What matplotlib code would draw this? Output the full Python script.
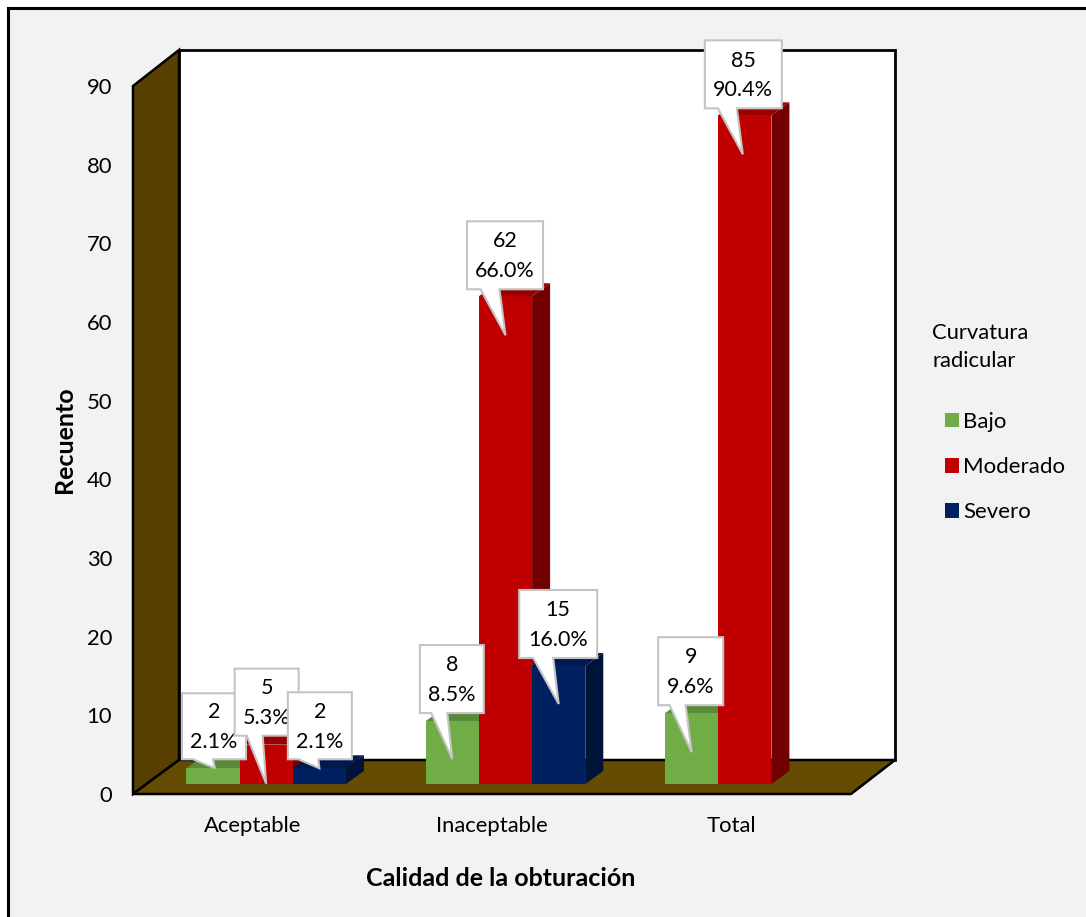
import matplotlib
matplotlib.use('Agg')
import matplotlib.pyplot as plt
from matplotlib.patches import Polygon, Rectangle
from matplotlib.transforms import Affine2D

plt.rcParams['font.family'] = ['Lato', 'DejaVu Sans']

categories = ['Aceptable', 'Inaceptable', 'Total']
series = ['Bajo', 'Moderado', 'Severo']
counts = {
    'Bajo': [2, 8, 9],
    'Moderado': [5, 62, 85],
    'Severo': [2, 15, None],
}
percents = {
    'Bajo': ['2.1%', '8.5%', '9.6%'],
    'Moderado': ['5.3%', '66.0%', '90.4%'],
    'Severo': ['2.1%', '16.0%', None],
}
y_ticks = [0, 10, 20, 30, 40, 50, 60, 70, 80, 90]

front = {'Bajo': '#70ad47', 'Moderado': '#c00000', 'Severo': '#002060'}
top = {'Bajo': '#5a8a39', 'Moderado': '#9a0000', 'Severo': '#001a4d'}
side = {'Bajo': '#43682a', 'Moderado': '#730000', 'Severo': '#001339'}

# pixel offsets of the balloon around the bar top: tip, box x range, box y range, neck x range
balloons = {
    ('Bajo', 0): ((2, 0), (-31, 33), (9, 75), (-20, 0)),
    ('Moderado', 0): ((0, -39), (-31.5, 32.5), (9, 76), (-19.5, -3.5)),
    ('Severo', 0): ((0, 0), (-31.5, 32.5), (9, 76), (-21, -1)),
    ('Bajo', 1): ((0, -38), (-32.5, 31.5), (8, 76), (-21, -5)),
    ('Moderado', 1): ((0, -39), (-38.5, 37.5), (7, 75), (-25, -6)),
    ('Severo', 1): ((0, -38), (-39.5, 38.5), (8, 76), (-25.5, -5.5)),
    ('Bajo', 2): ((0, -39), (-33.5, 31.5), (8, 76), (-22, -6)),
    ('Moderado', 2): ((-2, -39), (-40, 37), (7, 75), (-27, -8)),
}

W, H = 1086, 917
fig = plt.figure(figsize=(W / 100, H / 100), dpi=100, facecolor='white')

# panel behind the chart, with a black frame
fig.add_artist(Rectangle((8 / W, -0.02), 1.1, 1 - 8 / H + 0.02, transform=fig.transFigure,
                         facecolor='#f2f2f2', edgecolor='black', linewidth=2.2, zorder=-1))

ax = fig.add_axes([133 / W, (H - 794) / H, (851 - 133) / W, (794 - 86) / H])
ax.set_facecolor('none')
for s in ax.spines.values():
    s.set_visible(False)
ax.set_xlim(-0.5, 2.5)
ax.set_ylim(0, 90)


def shifted(dx, dy):
    return ax.transData + Affine2D().translate(dx, dy)


def to_px(x, y, dx=0, dy=0):
    px, py = ax.transData.transform((x, y))
    return px + dx, py + dy


# box of the room: back wall, left wall, floor
xmin, xmax = ax.get_xlim()
ymin, ymax = ax.get_ylim()
px_tr = Affine2D()
back_ll = to_px(xmin, ymin, 46, 34)
back_ul = to_px(xmin, ymax, 46, 36)
back_lr = to_px(xmax, ymin, 44, 34)
back_ur = to_px(xmax, ymax, 44, 36)
ax.add_patch(Polygon([back_ll, back_lr, back_ur, back_ul], transform=px_tr,
                     facecolor='white', edgecolor='black', linewidth=2, clip_on=False, zorder=1))
ax.add_patch(Polygon([to_px(xmin, ymin), to_px(xmin, ymax), back_ul, back_ll], transform=px_tr,
                     facecolor='#574000', edgecolor='black', linewidth=1.8, clip_on=False, zorder=2))
ax.add_patch(Polygon([to_px(xmin, ymin), to_px(xmax, ymin), back_lr, back_ll], transform=px_tr,
                     facecolor='#644c00', edgecolor='black', linewidth=1.8, clip_on=False, zorder=2))

# bars sit a little way into the room
BAR_SHIFT = (13.5, 10)
BAR_DEPTH = (18, 13)
bar_w = 2 / 9
z = 3
anchors = {}
for i, name in enumerate(series):
    xs = [c + (i - 1) * bar_w for c, v in enumerate(counts[name]) if v is not None]
    vals = [v for v in counts[name] if v is not None]
    ax.bar(xs, vals, bar_w, color=front[name], transform=shifted(*BAR_SHIFT),
           label=name, clip_on=False, zorder=z + 1)
    for c, (x, v) in enumerate(zip(xs, vals)):
        x0, x1 = x - bar_w / 2, x + bar_w / 2
        ox, oy = BAR_SHIFT
        ddx, ddy = BAR_DEPTH
        top_pts = [to_px(x0, v, ox, oy), to_px(x1, v, ox, oy),
                   to_px(x1, v, ox + ddx, oy + ddy), to_px(x0, v, ox + ddx, oy + ddy)]
        side_pts = [to_px(x1, 0, ox, oy), to_px(x1, v, ox, oy),
                    to_px(x1, v, ox + ddx, oy + ddy), to_px(x1, 0, ox + ddx, oy + ddy)]
        ax.add_patch(Polygon(top_pts, transform=px_tr, facecolor=top[name], edgecolor='none',
                             clip_on=False, zorder=z))
        ax.add_patch(Polygon(side_pts, transform=px_tr, facecolor=side[name], edgecolor='none',
                             clip_on=False, zorder=z))
        anchors[(name, c)] = to_px(x, v, ox, oy)
    z += 2

# value balloons, in series order so later ones overlap earlier ones
z = 20
for name in series:
    for c, cat in enumerate(categories):
        if counts[name][c] is None:
            continue
        (tx, ty), (bx0, bx1), (by0, by1), (nx0, nx1) = balloons[(name, c)]
        ax0, ay0 = anchors[(name, c)]
        outline = [(bx0, by0), (nx0, by0), (tx, ty), (nx1, by0), (bx1, by0), (bx1, by1), (bx0, by1)]
        ax.add_patch(Polygon([(ax0 + p, ay0 + q) for p, q in outline], closed=True, transform=px_tr,
                             facecolor='white', edgecolor='#c4c4c4', linewidth=1.5,
                             joinstyle='miter', clip_on=False, zorder=z))
        ax.text(ax0 + (bx0 + bx1) / 2, ay0 + (by0 + by1) / 2 - 1, f'{counts[name][c]}\n{percents[name][c]}',
                transform=px_tr, ha='center', va='center', fontsize=15.5, color='black',
                linespacing=1.6, clip_on=False, zorder=z + 1)
        z += 2

ax.set_xticks(range(len(categories)), categories)
ax.set_yticks(y_ticks)
ax.tick_params(axis='both', length=0, labelsize=15.8, colors='black')
ax.tick_params(axis='x', pad=16)
ax.tick_params(axis='y', pad=15)

ax.set_xlabel('Calidad de la obturación', fontsize=18, fontweight='bold', va='center')
ax.xaxis.set_label_coords(501 / W, (H - 879) / H, transform=fig.transFigure)
ax.set_ylabel('Recuento', fontsize=18, fontweight='bold', va='center')
ax.yaxis.set_label_coords(64 / W, (H - 440) / H, transform=fig.transFigure)

fig.text(932 / W, (H - 347) / H, 'Curvatura\nradicular', fontsize=15.8, ha='left', va='center', linespacing=1.45)
fig.legend(*ax.get_legend_handles_labels(), loc='upper left',
           bbox_to_anchor=(945 / W, (H - 412) / H), frameon=False, fontsize=16,
           handlelength=0.63, handleheight=0.63, handletextpad=0.2, labelspacing=1.13,
           borderpad=0, borderaxespad=0)

fig.savefig('out.png', dpi=100, facecolor=fig.get_facecolor())
